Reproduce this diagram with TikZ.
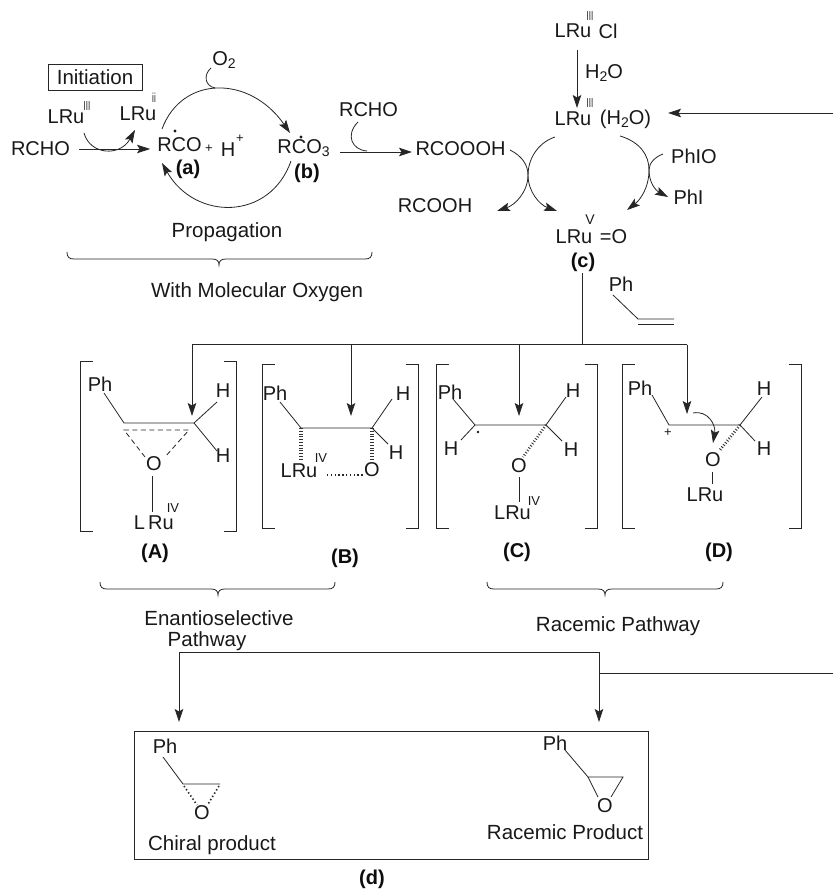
\documentclass[tikz,border=0pt]{standalone}
\usepackage{fontspec}
\setmainfont{Liberation Sans}
\usetikzlibrary{arrows.meta,calc}
\newcommand{\fA}{\fontsize{20}{22}\selectfont}
\newcommand{\fB}{\fontsize{20.5}{22}\selectfont}
\newcommand{\fS}{\fontsize{13}{13}\selectfont}
\newcommand{\narrow}[1]{\scalebox{0.62}[1]{#1}}
\newcommand{\lowtwo}[1]{\raisebox{-3.5pt}{\fontsize{14}{14}\selectfont #1}}
\newcommand{\bracepath}[4]{\draw[bondline] (#1,#4) .. controls (#1,{#4+5}) and ({#1+2},{#4+7}) .. ({#1+7},{#4+7}) -- ({#2-7},{#4+7}) .. controls ({#2-2},{#4+7}) and (#2,{#4+9}) .. (#2,{#4+13}) .. controls (#2,{#4+9}) and ({#2+2},{#4+7}) .. ({#2+7},{#4+7}) -- ({#3-7},{#4+7}) .. controls ({#3-2},{#4+7}) and (#3,{#4+5}) .. (#3,#4);}
\newcommand{\bracketpair}[5]{\draw[bondline] ({#1+12.5},#4) -- (#1,#4) -- (#1,#5) -- ({#1+12.5},#5); \draw[bondline] ({#3-12.5},#4) -- (#3,#4) -- (#3,#5) -- ({#3-12.5},#5);}
\tikzset{
 txt/.style={inner sep=0pt,font=\fA,text=black!90},
 lab/.style={inner sep=0pt,font=\fB,text=black!90},
 sm/.style={inner sep=0pt,font=\fS,text=black!90},
 bld/.style={inner sep=0pt,font=\fA\bfseries,text=black!95},
 bondline/.style={line width=0.8pt,draw=black!85},
 arr/.style={bondline,-{Stealth[length=13pt,width=8.5pt,inset=2.5pt]}},
 hash/.style={draw=black!80,line width=3.6pt,dash pattern=on 0.9pt off 1.9pt},
 dotline/.style={draw=black!85,line width=1.6pt,dash pattern=on 1.4pt off 2.4pt},
 dashb/.style={bondline,dash pattern=on 5pt off 3.5pt},
}
\begin{document}
\begin{tikzpicture}[x=1pt,y=-1pt]
\useasboundingbox[fill=white] (0,0) rectangle (833,890);

% ---- initiation / propagation ----
\node[draw=black!85,line width=0.8pt,minimum width=94pt,minimum height=26pt,lab,inner sep=0pt] (init) at (95,77) {Initiation};
\node[txt] (lruA) at (66,117) {LRu};
\node[sm] (lruAs) at (87,106) {\narrow{III}};
\node[txt] (lruB) at (138,114) {LRu};
\node[sm] (lruBs) at (154,98) {\narrow{ii}};
\node[txt] (rcho) at (40.5,149) {RCHO};
\node[txt] (rco) at (179.5,145) {RCO};
\node[sm] (plusA) at (209,149) {+};
\node[txt] (hplus) at (228,150) {H};
\node[sm] (hplusS) at (240,139) {+};
\node[bld] (la) at (188,169) {(a)};
\node[txt] (otwo) at (224,60) {O\lowtwo{2}};
\node[txt] (rco3) at (303.5,148) {RCO\lowtwo{3}};
\node[bld] (lb) at (307,173) {(b)};
\node[lab] (prop) at (227,232) {Propagation};
\node[lab] (withO) at (257,292) {With Molecular Oxygen};
\fill[black!90] (175,131) circle (1.6pt) (301,137) circle (1.6pt);

\coordinate (cA) at (84,133); \coordinate (cB) at (135,130);
\coordinate (arcUa) at (162,129); \coordinate (arcUb) at (290,133);
\coordinate (arcLa) at (291,161); \coordinate (arcLb) at (162,163);
\coordinate (hookOa) at (211,68); \coordinate (hookOb) at (215,88);

\draw[arr,shorten <=9pt,shorten >=7pt] (rcho.east) -- (rcho.east -| rco.west);
\draw[arr] (cA) .. controls (90,155) and (120,157) .. (cB);
\draw[arr] (arcUa) .. controls (182,75) and (250,75) .. (arcUb);
\draw[arr] (arcLa) .. controls (270,221) and (195,221) .. (arcLb);
\draw[bondline] (hookOa) .. controls (203,75) and (205,86) .. (hookOb);
\bracepath{67}{219}{372}{252}

% ---- peracid / catalytic cycle ----
\node[txt] (rcho2) at (368.5,110) {RCHO};
\node[txt] (peracid) at (460.5,149) {RCOOOH};
\node[txt] (acid) at (435,206) {RCOOH};
\node[txt] (lruCl) at (573,31) {LRu};
\node[sm] (lruClS) at (590,16) {\narrow{III}};
\node[txt] (cl) at (608,31) {Cl};
\node[txt] (water) at (604,73) {H\lowtwo{2}O};
\node[txt] (lruW) at (573,119) {LRu};
\node[sm] (lruWS) at (590,103) {\narrow{III}};
\node[txt] (lruWb) at (625.5,119) {(H\lowtwo{2}O)};
\node[txt] (phio) at (694,156) {PhIO};
\node[txt] (phi) at (688.5,197) {PhI};
\node[txt] (lruO) at (574,237) {LRu};
\node[sm,font=\fontsize{14}{14}\selectfont] (lruOS) at (590,220) {V};
\node[txt] (oxo) at (613.5,237) {=O};
\node[bld] (lc) at (583,262) {(c)};
\node[txt] (phS) at (621,284) {Ph};

\coordinate (hookRa) at (358,122); \coordinate (hookRb) at (367,151);
\coordinate (arrPa) at (340,152); \coordinate (arrPb) at (412,152);
\coordinate (clDown) at (577,50); \coordinate (wUp) at (577,108);
\coordinate (retE) at (833,113); \coordinate (retH) at (668,113);
\coordinate (lA) at (555,137); \coordinate (lAe) at (497,211);
\coordinate (lB) at (510,150); \coordinate (lBe) at (557,211);
\coordinate (kissL) at (528,175); \coordinate (kissR) at (649,170);
\coordinate (rA) at (620,136); \coordinate (rAe) at (627,210);
\coordinate (rB) at (663,154); \coordinate (rBe) at (668,197);

\draw[bondline] (hookRa) .. controls (345,135) and (352,150) .. (hookRb);
\draw[arr] (arrPa) -- (arrPb);
\draw[arr] (clDown) -- (wUp);
\draw[arr] (retE) -- (retH);
\draw[arr] (lA) .. controls (537,143) and (528,160) .. (kissL) .. controls (528,192) and (515,205) .. (lAe);
\draw[arr] (lB) .. controls (522,156) and (528,165) .. (kissL) .. controls (528,192) and (540,205) .. (lBe);
\draw[arr] (rA) .. controls (640,142) and (649,155) .. (kissR) .. controls (649,188) and (640,200) .. (rAe);
\draw[arr] (rB) .. controls (655,157) and (649,163) .. (kissR) .. controls (649,182) and (655,190) .. (rBe);

% styrene
\coordinate (st1) at (613,295); \coordinate (st2) at (638,319); \coordinate (st3) at (674,319);
\draw[bondline] (st1) -- (st2) -- (st3);
\draw[bondline] (638,324) -- (674,324);

% ---- distribution line ----
\coordinate (cTop) at (582,273); \coordinate (cJ) at (582,344.5);
\coordinate (busL) at (192,344.5); \coordinate (busR) at (687,344.5);
\coordinate (busB) at (351,344.5); \coordinate (busC) at (519,344.5);
\coordinate (tipA) at (192,416); \coordinate (tipB) at (351,416);
\coordinate (tipC) at (519,416); \coordinate (tipD) at (687,414);
\draw[bondline] (cTop) -- (cJ);
\draw[arr] (busR) -- (busL) -- (tipA);
\draw[arr] (busB) -- (tipB);
\draw[arr] (busC) -- (tipC);
\draw[arr] (busR) -- (tipD);

% ---- (A) ----
\bracketpair{80}{0}{236}{361}{531}
\node[txt] (phA) at (100,384) {Ph};
\node[txt] (hA1) at (223,391) {H};
\node[txt] (hA2) at (223,456) {H};
\node[txt] (oA) at (154,464) {O};
\node[txt] (lA1) at (139.5,523) {L};
\node[txt] (lA2) at (161,523) {Ru};
\node[sm] (lAs) at (173,508) {IV};
\coordinate (a1) at (104,393); \coordinate (a2) at (124,423); \coordinate (a3) at (194,423);
\coordinate (a4) at (217,402); \coordinate (a5) at (217,451);
\coordinate (a6) at (124,430); \coordinate (a7) at (189,430);
\coordinate (a8) at (145,457); \coordinate (a9) at (165,457);
\coordinate (a10) at (152,476); \coordinate (a11) at (152,512);
\draw[bondline] (a1) -- (a2) -- (a3) -- (a4);
\draw[bondline] (a3) -- (a5);
\draw[dashb] (a8) -- (a6) -- (a7) -- (a9);
\draw[bondline] (a10) -- (a11);
\node[bld] (labA) at (155,553) {(A)};

% ---- (B) ----
\bracketpair{262}{0}{418}{364}{528}
\node[txt] (phB) at (275,393) {Ph};
\node[txt] (hB1) at (403,394) {H};
\node[txt] (hB2) at (396,453) {H};
\node[txt] (lB1) at (299,471) {LRu};
\node[sm] (lBs) at (321,458) {IV};
\node[txt] (oB) at (372,470) {O};
\coordinate (b1) at (280,402); \coordinate (b2) at (301,428); \coordinate (b3) at (372,428);
\coordinate (b4) at (392,399); \coordinate (b5) at (388,444);
\coordinate (b6) at (301,460); \coordinate (b7) at (372,460);
\coordinate (b8) at (327,475); \coordinate (b9) at (363,475);
\draw[bondline] (b1) -- (b2) -- (b3) -- (b4);
\draw[bondline] (b3) -- (b5);
\draw[hash] (b2) -- (b6);
\draw[hash] (b3) -- (b7);
\draw[dotline] (b8) -- (b9);
\node[bld] (labB) at (345,558) {(B)};

% ---- (C) ----
\bracketpair{436}{0}{597}{364}{528}
\node[txt] (phC) at (450,392) {Ph};
\node[txt] (hC1) at (573,391) {H};
\node[txt] (hC2) at (571,450) {H};
\node[txt] (hC3) at (451,449) {H};
\node[txt] (oC) at (519,466) {O};
\node[txt] (lC1) at (512.5,513) {LRu};
\node[sm] (lCs) at (534,501) {IV};
\coordinate (c1) at (453,399); \coordinate (c2) at (475,425); \coordinate (c3) at (546,425);
\coordinate (c4) at (566,397); \coordinate (c5) at (562,441); \coordinate (c6) at (461,440);
\coordinate (c7) at (523,457); \coordinate (c8) at (519,477); \coordinate (c9) at (519,502);
\draw[bondline] (c1) -- (c2) -- (c3) -- (c4);
\draw[bondline] (c3) -- (c5);
\draw[bondline] (c2) -- (c6);
\draw[hash,line width=2.6pt] (c3) -- (c7);
\draw[bondline] (c8) -- (c9);
\fill[black!90] (478,432) circle (1.3pt);
\node[bld] (labC) at (517,552) {(C)};

% ---- (D) ----
\bracketpair{622}{0}{801}{364}{528}
\node[txt] (phD) at (640,388) {Ph};
\node[txt] (hD1) at (764,389) {H};
\node[txt] (hD2) at (764,449) {H};
\node[sm] (plusD) at (668,433) {+};
\node[txt] (oD) at (713,460) {O};
\node[txt] (lD1) at (705,495) {LRu};
\coordinate (d1) at (652,395); \coordinate (d2) at (669,425); \coordinate (d3) at (740,425);
\coordinate (d4) at (762,397); \coordinate (d5) at (755,441);
\coordinate (d6) at (720,450); \coordinate (d7) at (712,472); \coordinate (d8) at (712,484);
\coordinate (d9) at (693,413); \coordinate (d10) at (713,443);
\draw[bondline] (d1) -- (d2) -- (d3) -- (d4);
\draw[bondline] (d3) -- (d5);
\draw[hash,line width=2.8pt] (d3) -- (d6);
\draw[bondline] (d7) -- (d8);
\draw[arr] (d9) .. controls (708,410) and (716,425) .. (d10);
\node[bld] (labD) at (719,552) {(D)};

% ---- pathways ----
\bracepath{100}{218}{335}{582}
\bracepath{487}{605}{723}{582}
\node[lab] (en1) at (219,618) {Enantioselective};
\node[lab] (en2) at (207,641) {Pathway};
\node[lab] (rac) at (618,626) {Racemic Pathway};

% ---- products ----
\coordinate (pL) at (179,652); \coordinate (pR) at (599,652); \coordinate (pJ) at (599,673); \coordinate (pE) at (833,673);
\coordinate (pLt) at (179,722); \coordinate (pRt) at (599,722);
\draw[bondline] (pE) -- (pJ);
\draw[arr] (pJ) -- (pR) -- (pL) -- (pLt);
\draw[arr] (pJ) -- (pRt);
\node[draw=black!85,line width=0.9pt,minimum width=514pt,minimum height=128pt,inner sep=0pt] (box) at (391,795) {};
\node[txt] (phP) at (165,746) {Ph};
\node[txt] (oP) at (202,813) {O};
\node[lab] (chi) at (212,845) {Chiral product};
\coordinate (e1) at (163,757); \coordinate (e2) at (183,784); \coordinate (e3) at (220,784);
\coordinate (e4) at (197,805); \coordinate (e5) at (207.5,805);
\draw[bondline] (e1) -- (e2) -- (e3);
\draw[dotline] (184,786) -- (e4);
\draw[dotline] (219,786) -- (e5);
\node[txt] (phQ) at (555,743) {Ph};
\node[txt] (oQ) at (605,806) {O};
\node[lab] (racP) at (565,832) {Racemic Product};
\coordinate (f1) at (565,750); \coordinate (f2) at (588,777); \coordinate (f3) at (623,777);
\coordinate (f4) at (598,797); \coordinate (f5) at (611,797);
\draw[bondline] (f1) -- (f2) -- (f3) -- (f5);
\draw[bondline] (f2) -- (f4);
\node[bld] (labd) at (372,879) {(d)};
\end{tikzpicture}
\end{document}
